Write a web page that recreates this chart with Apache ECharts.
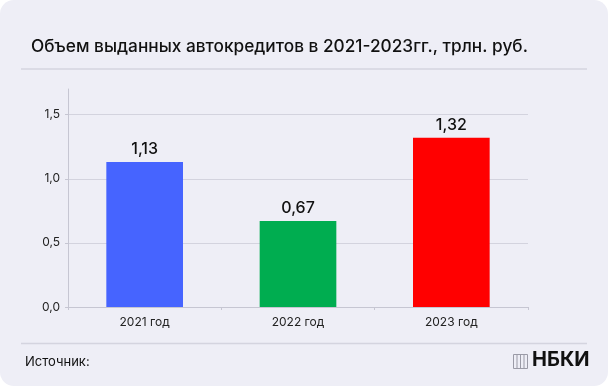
<!DOCTYPE html>
<html>
<head>
<meta charset="utf-8">
<script src="https://cdn.jsdelivr.net/npm/echarts@6/dist/echarts.min.js"></script>
<style>
html,body{margin:0;padding:0;background:#ffffff;}
#chart{width:608px;height:387px;}
</style>
</head>
<body>
<div id="chart"></div>
<script>
const titleText = 'Объем выданных автокредитов в 2021-2023гг., трлн. руб.';
const categories = ['2021 год', '2022 год', '2023 год'];
const values = [1.13, 0.67, 1.32];
const barColors = ['#4664FF', '#00AD50', '#FF0000'];
const sourceText = 'Источник:';
const logoText = 'НБКИ';

const FONT = 'Inter, "Noto Sans", sans-serif';
const chart = echarts.init(document.getElementById('chart'), null, {renderer: 'canvas'});

const logoIcon = [];
logoIcon.push({type: 'rect', shape: {x: 513.5, y: 354.5, width: 14, height: 14}, style: {fill: 'none', stroke: '#9A9AA6', lineWidth: 1}});
[517, 520.5, 524].forEach(function (x) {
  logoIcon.push({type: 'line', shape: {x1: x, y1: 355, x2: x, y2: 368}, style: {stroke: '#9A9AA6', lineWidth: 1}});
});

chart.setOption({
  backgroundColor: 'transparent',
  animation: false,
  textStyle: {fontFamily: FONT},
  title: {
    text: titleText,
    left: 26,
    top: 33,
    textStyle: {fontFamily: FONT, fontSize: 17.25, fontWeight: 500, color: '#111111'}
  },
  grid: {left: 68, right: 80, top: 89, bottom: 80, containLabel: false},
  xAxis: {
    type: 'category',
    data: categories,
    axisLine: {lineStyle: {color: '#C6C6D2'}},
    axisTick: {show: true, length: 3, lineStyle: {color: '#C6C6D2'}},
    axisLabel: {color: '#222222', fontSize: 12, fontFamily: FONT, margin: 9}
  },
  yAxis: {
    type: 'value',
    min: 0,
    max: 1.7,
    interval: 0.5,
    axisLine: {show: true, lineStyle: {color: '#C6C6D2'}},
    axisTick: {show: true, length: 3, lineStyle: {color: '#C6C6D2'}},
    axisLabel: {
      color: '#222222', fontSize: 12, fontFamily: FONT, margin: 8,
      showMaxLabel: false,
      formatter: function (v) { return v.toFixed(1).replace('.', ','); }
    },
    splitLine: {show: true, showMaxLine: false, lineStyle: {color: '#D3D3DE'}}
  },
  series: [{
    type: 'bar',
    data: values.map(function (v, i) { return {value: v, itemStyle: {color: barColors[i]}}; }),
    barWidth: '50%',
    label: {
      show: true,
      position: 'top',
      distance: 5,
      color: '#111111',
      fontSize: 16,
      fontWeight: 500,
      fontFamily: FONT,
      formatter: function (p) { return p.value.toFixed(2).replace('.', ','); }
    }
  }],
  graphic: [
    {type: 'rect', z: -10, silent: true, shape: {x: 0, y: 0, width: 608, height: 386, r: 14}, style: {fill: '#EEEEF6'}},
    {type: 'line', shape: {x1: 21, y1: 69, x2: 587, y2: 69}, style: {stroke: '#D4D4DF', lineWidth: 1.5}},
    {type: 'line', shape: {x1: 21, y1: 343.5, x2: 587, y2: 343.5}, style: {stroke: '#D4D4DF', lineWidth: 1.5}},
    {type: 'text', left: 25, top: 356, style: {text: sourceText, fontFamily: FONT, fontSize: 13, fill: '#111111'}},
    {type: 'text', left: 532, top: 350, style: {text: logoText, fontFamily: FONT, fontSize: 20, fontWeight: 700, fill: '#111111'}}
  ].concat(logoIcon)
});
</script>
</body>
</html>
